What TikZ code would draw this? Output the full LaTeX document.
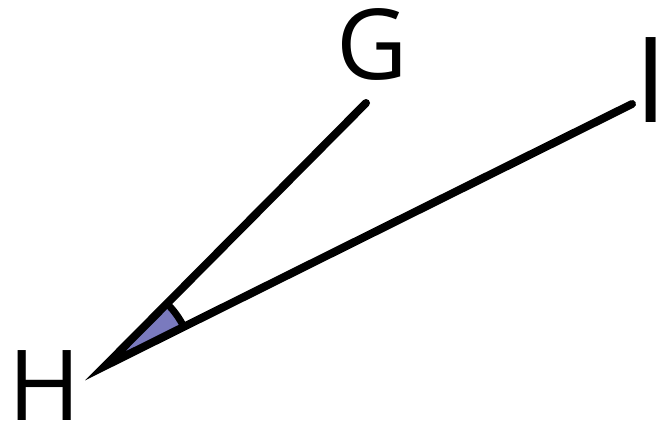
\documentclass[tikz,border=0pt]{standalone}
\usepackage{fontspec}
\setmainfont{Open Sans}
\usetikzlibrary{calc}
\definecolor{anglefill}{RGB}{122,122,190}
\tikzset{
  lbl/.style={inner sep=0pt, outer sep=0pt, anchor=base, font=\fontsize{98}{100}\selectfont},
  lblbig/.style={inner sep=0pt, outer sep=0pt, anchor=base, font=\fontsize{119}{120}\selectfont},
  ray/.style={line width=8pt, line join=miter, line cap=round},
  anglearc/.style={line width=7pt}
}
\begin{document}
\begin{tikzpicture}[x=1pt,y=-1pt]
\useasboundingbox (0,0) rectangle (660,426);
\coordinate (H) at (105,366);
\coordinate (G) at (366,103);
\coordinate (I) at (632,104);
\fill[anglefill] (H) -- ++(-26.4:88) arc[start angle=-26.4, end angle=-45.2, radius=88] -- cycle;
\draw[anglearc] ($(H)+(-26.4:88)$) arc[start angle=-26.4, end angle=-45.2, radius=88];
\draw[ray] (G) -- (H) -- (I);
\node[lbl] (Hl) at (44.5,420) {H};
\node[lbl] (Gl) at (372,79) {G};
\node[lblbig] (Il) at (651.5,122) {I};
\end{tikzpicture}
\end{document}
